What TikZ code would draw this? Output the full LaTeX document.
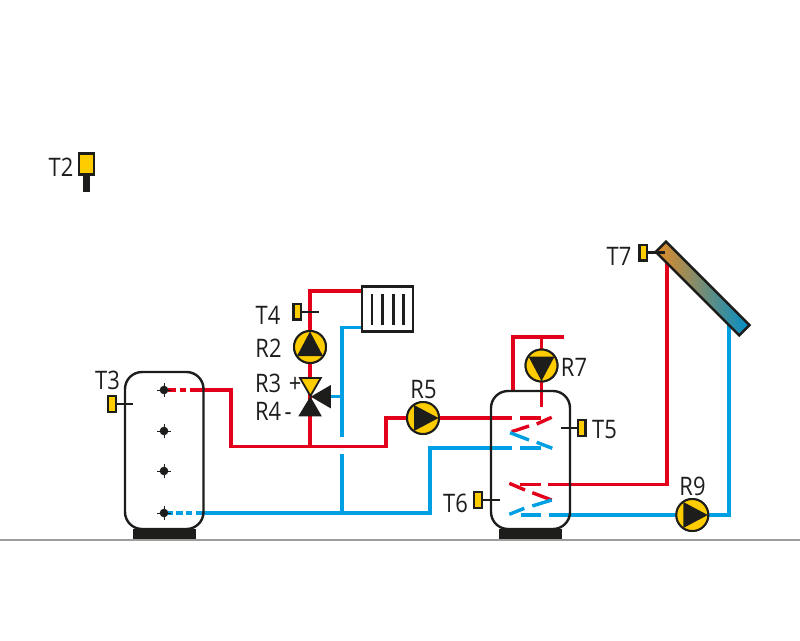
\documentclass[tikz,border=0pt]{standalone}
\usepackage{fontspec}
\setmainfont{Open Sans}
\definecolor{hotred}{HTML}{E2001A}
\definecolor{coldblue}{HTML}{009FE3}
\definecolor{sensoryellow}{HTML}{FFCC00}
\definecolor{ink}{HTML}{1D1D1B}
\definecolor{groundgray}{HTML}{9D9D9C}
\definecolor{solarorange}{HTML}{E58A25}
\definecolor{solarmid}{HTML}{A09A88}
\definecolor{solarblue}{HTML}{008FC8}
\tikzset{
  hot/.style={draw=hotred,line width=3.4pt,miter limit=10},
  cold/.style={draw=coldblue,line width=3.4pt,miter limit=10},
  tank/.style={draw=ink,line width=2.4pt,rounded corners=17pt},
  tankbase/.style={fill=ink,draw=none,minimum height=10pt,inner sep=0pt},
  pump/.style={circle,draw=ink,fill=sensoryellow,line width=2pt,minimum size=32pt,inner sep=0pt},
  sensorbox/.style={rectangle,draw=ink,fill=sensoryellow,line width=2.4pt,minimum width=7.6pt,minimum height=15.6pt,inner sep=0pt},
  probe/.style={draw=ink,line width=2.2pt},
  lbl/.style={font=\fontsize{25.5}{25.5}\selectfont,text=ink,inner sep=0pt,xscale=.86,yscale=1},
  tick/.style={draw=ink,line width=.9pt},
  glyph/.style={fill=ink,draw=none}
}
\begin{document}
\begin{tikzpicture}[x=1pt,y=-1pt]
\useasboundingbox (0,0) rectangle (800,640);
% ground
\coordinate (gl) at (0,540); \coordinate (gr) at (800,540);
\draw[groundgray,line width=2.2pt] (gl) -- (gr);
% equipment anchors
\node[tankbase,minimum width=63pt] (base1) at (164.5,534) {};
\node[tankbase,minimum width=63pt] (base2) at (530.5,534) {};
\coordinate (d1) at (164,390); \coordinate (d2) at (164,431);
\coordinate (d3) at (164,471); \coordinate (d4) at (164,513);
\coordinate (rad) at (387.5,309);
\coordinate (valve) at (310.5,396.7);
% named pipe points
\coordinate (a1) at (231,390); \coordinate (a2) at (231,446.5);
\coordinate (a3) at (386,446.5); \coordinate (a4) at (386,418);
\coordinate (a5) at (310,446.5); \coordinate (a6) at (310,291);
\coordinate (a7) at (361,291);
\coordinate (b1) at (361,327.5); \coordinate (b2) at (342,327.5);
\coordinate (b3) at (342,436.5); \coordinate (b4) at (342,454);
\coordinate (b5) at (342,513); \coordinate (b6) at (430,513);
\coordinate (b7) at (430,448); \coordinate (b8) at (512,448);
\coordinate (b9) at (342,396.7); \coordinate (b10) at (328,396.7);
\coordinate (t1) at (196,513);
\coordinate (c1) at (513,391); \coordinate (c2) at (513,337);
\coordinate (c3) at (564,337); \coordinate (c4) at (541.5,337);
\coordinate (c5) at (541.5,407);
\coordinate (c6) at (512,418);
\coordinate (s1) at (667,484.3); \coordinate (s2) at (548,484.3); \coordinate (s3) at (667,255);
\coordinate (s4) at (729,325); \coordinate (s5) at (729,515); \coordinate (s6) at (549,515);
\node[pump] (r2) at (310,347) {};
\node[pump] (r5) at (423,418) {};
\node[pump] (r7) at (541.5,365.5) {};
\node[pump] (r9) at (692.3,515) {};
% red pipes
\draw[hot] (190,390) -- (a1) -- (a2) -- (a3) -- (a4) -- (r5);
\draw[hot] (168,390) -- (176,390) (180,390) -- (186,390);
\draw[hot] (a5) -- (a6) -- (a7);
\draw[hot] (r5) -- (c6);
\draw[hot] (c1) -- (c2) -- (c3);
\draw[hot] (c4) -- (c5);
\draw[hot] (s2) -- (s1) -- (s3);
% blue pipes
\draw[cold] (b1) -- (b2) -- (b3);
\draw[cold] (b4) -- (b5);
\draw[cold] (b10) -- (b9);
\draw[cold] (t1) -- (b6) -- (b7) -- (b8);
\draw[cold] (168,513) -- (173,513) (175.5,513) -- (183,513) (186,513) -- (192,513);
\draw[cold] (s6) -- (r9) (r9) -- (s5) -- (s4);
% coil pieces upper
\draw[hot] (520,418) -- (541,418);
\draw[hot] (536.7,424) -- (551.7,417.3);
\draw[hot] (511.7,431.7) -- (529,426);
\draw[cold] (510,432.7) -- (529,440);
\draw[cold] (536.7,442.3) -- (552.3,448.3);
\draw[cold] (520,448) -- (541,448);
% coil pieces lower
\draw[hot] (520,484.3) -- (541,484.3);
\draw[hot] (509.3,483.3) -- (525,490);
\draw[hot] (532.3,492.7) -- (551.7,500);
\draw[cold] (532.3,506) -- (551.7,500);
\draw[cold] (509.3,514.3) -- (524.3,508.3);
\draw[cold] (520.7,515) -- (541,515);
% tanks
\draw[tank] (125,372) rectangle (203.5,529);
\draw[tank] (491,391) rectangle (570,529);
% tank connections
\foreach \p in {d1,d2,d3,d4}{
  \fill[ink] (\p) circle (4.3pt);
  \draw[tick] ([xshift=-7pt]\p) -- ([xshift=7pt]\p);
  \draw[tick] ([yshift=-7pt]\p) -- ([yshift=7pt]\p);
}
% pumps: redraw on top of pipes
\node[pump] at (r2) {};
\node[pump] at (r5) {};
\node[pump] at (r7) {};
\node[pump] at (r9) {};
\fill[glyph,shift={(r2.center)},rotate=90] (-9,-13) -- (15.5,0) -- (-9,13) -- cycle;
\fill[glyph,shift={(r5.center)}] (-9,-13) -- (15.5,0) -- (-9,13) -- cycle;
\fill[glyph,shift={(r7.center)},rotate=-90] (-9,-13) -- (15.5,0) -- (-9,13) -- cycle;
\fill[glyph,shift={(r9.center)}] (-9,-13) -- (15.5,0) -- (-9,13) -- cycle;
% valve
\fill[sensoryellow,draw=ink,line width=1.8pt,line join=miter] (300,378) -- (320.8,378) -- (310.4,396) -- cycle;
\fill[glyph] (298.3,416.3) -- (321.8,416.3) -- (310.3,396.5) -- cycle;
\fill[glyph] (330.8,385) -- (330.8,408.4) -- (310.8,396.7) -- cycle;
% radiator
\node[rectangle,draw=ink,line width=2.6pt,fill=white,minimum width=51pt,minimum height=44.5pt,inner sep=0pt] (radiator) at (rad) {};
\foreach \x in {371.8,382.6,393.3,403.6}{
  \draw[ink,line width=2.4pt] (\x,294) -- (\x,325);
}
% solar collector
\node[rectangle,rotate=-45,draw=ink,line width=2.4pt,left color=solarorange,middle color=solarmid,right color=solarblue,minimum width=118pt,minimum height=14.5pt,inner sep=0pt] (collector) at (702.6,288.5) {};
% sensors
\node[sensorbox,minimum width=15pt,minimum height=21pt] (st2) at (86.3,164) {};
\coordinate (st2stem) at (st2.south |- 0,191.5);
\draw[ink,line width=6.5pt] (st2.south) -- (st2stem);
\node[sensorbox] (st3) at (112,404) {};
\coordinate (st3p) at (133,404);
\draw[probe] (st3.east) -- (st3p);
\node[sensorbox] (st4) at (297.2,311.7) {};
\coordinate (st4p) at (318.5,311.7);
\draw[probe] (st4.east) -- (st4p);
\node[sensorbox] (st5) at (581.7,428) {};
\coordinate (st5p) at (560.5,428);
\draw[probe] (st5.west) -- (st5p);
\node[sensorbox] (st6) at (478,500) {};
\coordinate (st6p) at (499.5,500);
\draw[probe] (st6.east) -- (st6p);
\node[sensorbox] (st7) at (643.3,252.5) {};
\coordinate (st7p) at (665,252.5);
\draw[probe] (st7.east) -- (st7p);
% labels
\node[lbl] (lt2) at (61,167.5) {T2};
\node[lbl] (lt3) at (107.5,380) {T3};
\node[lbl] (lt4) at (268,315) {T4};
\node[lbl] (lt5) at (604.5,430) {T5};
\node[lbl] (lt6) at (455.5,503) {T6};
\node[lbl] (lt7) at (619,256) {T7};
\node[lbl] (lr2) at (268.5,348.5) {R2};
\node[lbl,anchor=west] (lr3) at (255,383.5) {R3\kern9pt+};
\node[lbl,anchor=west] (lr4) at (255,411.5) {R4\kern4pt-};
\node[lbl] (lr5) at (423.5,390) {R5};
\node[lbl] (lr7) at (574,367.5) {R7};
\node[lbl] (lr9) at (692.5,486) {R9};
\end{tikzpicture}
\end{document}
